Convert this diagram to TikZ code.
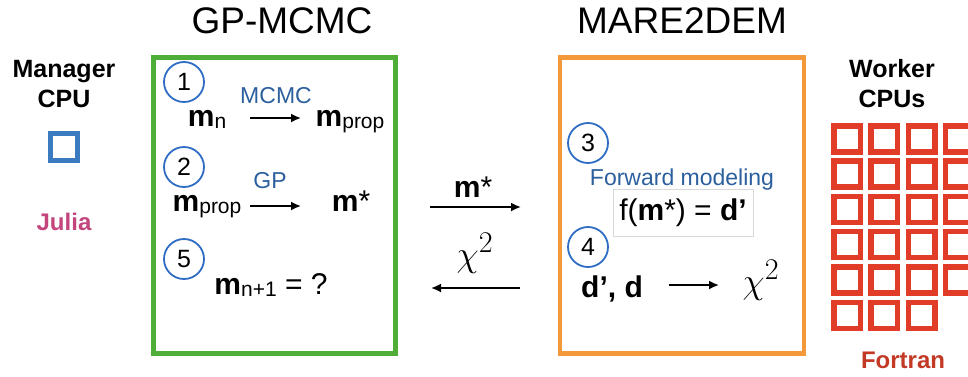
\documentclass[tikz,border=0pt]{standalone}
\usepackage{graphicx}
\usepackage{fontspec}
\setmainfont{Liberation Sans}
\usetikzlibrary{arrows.meta}
\definecolor{gpgreen}{HTML}{4EAE38}
\definecolor{maorange}{HTML}{F4993A}
\definecolor{mgrblue}{HTML}{3A7CBF}
\definecolor{circblue}{HTML}{2F6CC4}
\definecolor{lblblue}{HTML}{2B5F9E}
\definecolor{juliapink}{HTML}{C4447C}
\definecolor{gridred}{HTML}{E03C28}
\definecolor{fortred}{HTML}{C23A26}
\newcommand\fsz[1]{\fontsize{#1}{#1}\selectfont}
\newcommand\mvec[1]{{\bfseries m}\raisebox{-2pt}{\fsz{21}#1}}
\newcommand\chisq{\scalebox{1.45}{\fsz{24.88}$\chi^2$}}
\begin{document}
\begin{tikzpicture}[x=1pt,y=-1pt,
  title/.style={font=\fsz{37}, anchor=base, inner sep=0},
  cpulbl/.style={font=\fsz{25}\bfseries, anchor=base, inner sep=0},
  num/.style={circle, draw=circblue, line width=1.8pt, minimum size=40pt, inner sep=0, font=\fsz{25}},
  expr/.style={font=\fsz{30}, anchor=base, inner sep=0},
  lbl/.style={font=\fsz{23}, text=lblblue, anchor=base, inner sep=0},
  arr/.style={line width=1.8pt, -{Latex[length=10pt,width=9pt]}},
  chi/.style={anchor=base, inner sep=0},
  redsq/.style={draw=gridred, line width=5.5pt}]
\useasboundingbox (0,0) rectangle (968,376);

% titles
\node[title] (t1) at (282,33) {GP-MCMC};
\node[title] (t2) at (682,33) {MARE2DEM};

% manager
\node[cpulbl] (mg1) at (64,77) {Manager};
\node[cpulbl] (mg2) at (64,107) {CPU};
\node[draw=mgrblue, line width=5pt, minimum size=27pt, inner sep=0] (mcpu) at (64,146.5) {};
\node[cpulbl, text=juliapink, font=\fsz{24}\bfseries] (jl) at (64,230) {Julia};

% boxes
\node[draw=gpgreen, line width=5pt, minimum width=242pt, minimum height=296pt, inner sep=0] (gp) at (274.5,205.5) {};
\node[draw=maorange, line width=4.5pt, minimum width=244pt, minimum height=296pt, inner sep=0] (ma) at (682,205.5) {};

% GP-MCMC content
\node[num] (c1) at (184,82) {1};
\node[num] (c2) at (184,167) {2};
\node[num] (c5) at (184,259) {5};

\node[expr] (mn) at (207,126) {\mvec{n}};
\node[expr] (mp1) at (350,126) {\mvec{prop}};
\coordinate (a1s) at (250,118);
\coordinate (a1e) at (301,118);
\draw[arr] (a1s) -- (a1e);
\node[lbl] (lmcmc) at (276,103) {MCMC};

\node[expr] (mp2) at (207,211) {\mvec{prop}};
\node[expr] (ms1) at (351,211) {{\bfseries m}*};
\coordinate (a2s) at (250,206);
\coordinate (a2e) at (301,206);
\draw[arr] (a2s) -- (a2e);
\node[lbl] (lgp) at (270,188) {GP};

\node[expr] (mn1) at (271,294) {\mvec{n+1} = ?};

% middle
\node[expr] (ms2) at (473,197) {{\bfseries m}*};
\coordinate (m1s) at (430,207);
\coordinate (m1e) at (521,207);
\draw[arr] (m1s) -- (m1e);
\node[chi] (chi1) at (475,266) {\chisq};
\coordinate (m2s) at (520,288);
\coordinate (m2e) at (431,288);
\draw[arr] (m2s) -- (m2e);

% MARE2DEM content
\node[num] (c3) at (588,143) {3};
\node[num] (c4) at (588,247) {4};
\node[lbl] (lfwd) at (682,185) {Forward modeling};
\node[draw=black!15, line width=0.8pt, minimum width=140pt, minimum height=47pt, inner sep=0, font=\fsz{30}] (fbox) at (683,212.5) {f({\bfseries m}*) = {\bfseries d’}};
\node[expr] (dd) at (612,297) {\bfseries d’, d};
\coordinate (a4s) at (669,285);
\coordinate (a4e) at (719,285);
\draw[arr] (a4s) -- (a4e);
\node[chi] (chi2) at (761,293) {\chisq};

% worker
\node[cpulbl] (wk1) at (892,77) {Worker};
\node[cpulbl] (wk2) at (892,107) {CPUs};
\foreach \i in {0,1,2,3}{
  \foreach \j in {0,1,2,3,4,5}{
    \pgfmathtruncatemacro\skipit{(\i==3)&&(\j==5)}
    \ifnum\skipit=0
      \draw[redsq] ({833.75+37.3*\i},{125.75+35.3*\j}) rectangle ++(26.5,26);
    \fi
  }
}
\node[cpulbl, text=fortred, font=\fsz{24}\bfseries] (ft) at (903,368) {Fortran};
\end{tikzpicture}
\end{document}
